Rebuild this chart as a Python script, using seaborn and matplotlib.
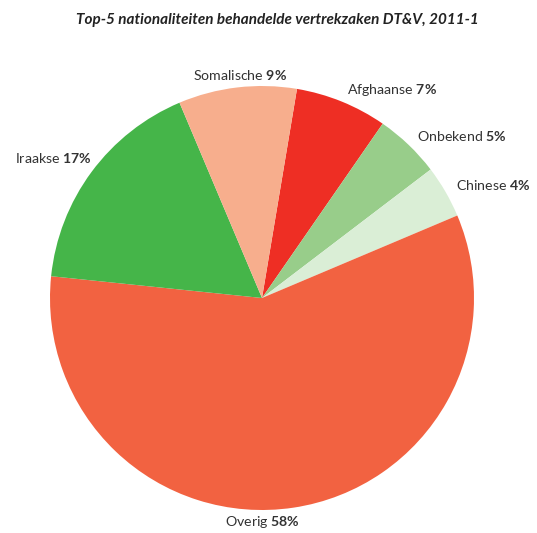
import numpy as np
import matplotlib
matplotlib.use("Agg")
import matplotlib.pyplot as plt
import seaborn as sns

# Data (clockwise from the top)
nationalities = ["Afghaanse", "Onbekend", "Chinese", "Overig", "Iraakse", "Somalische"]
shares = [7, 5, 4, 58, 17, 9]
colors = ["#EE2E24", "#98CD8A", "#DAEED6", "#F26241", "#45B549", "#F7AE8D"]

sns.set_theme(style="white")
plt.rcParams["font.family"] = ["Lato", "DejaVu Sans"]
plt.rcParams["mathtext.fontset"] = "custom"
plt.rcParams["mathtext.rm"] = "Lato"
plt.rcParams["mathtext.bf"] = "Lato:bold"

fig = plt.figure(figsize=(5.37, 5.33), dpi=100)
ax = fig.add_axes([50 / 537, 23 / 533, 424 / 537, 424 / 533])

labels = [f"{n} $\\mathbf{{{v}\\%}}$" for n, v in zip(nationalities, shares)]
wedges, texts = ax.pie(shares, labels=labels, colors=colors, startangle=80.5,
                       counterclock=False, labeldistance=1.06,
                       wedgeprops=dict(linewidth=0),
                       textprops=dict(fontsize=10.2, color="#333333"))

# small tweaks for the top and bottom labels
for t, n in zip(texts, nationalities):
    x, y = t.get_position()
    if n == "Somalische":
        t.set_ha("center")
        t.set_x(x + 0.02)
    if n == "Overig":
        t.set_ha("center")
        t.set_position((0.0, -1.055))
    if n == "Iraakse":
        t.set_position((x * 0.94, y * 1.05))

ax.set_xlim(-1, 1)
ax.set_ylim(-1, 1)

fig.text(277 / 537, 1 - 20 / 533, "Top-5 nationaliteiten behandelde vertrekzaken DT&V, 2011-1",
         ha="center", va="center", fontsize=11, fontweight="bold", fontstyle="italic",
         color="#222222")

fig.savefig("out.png", dpi=100)
